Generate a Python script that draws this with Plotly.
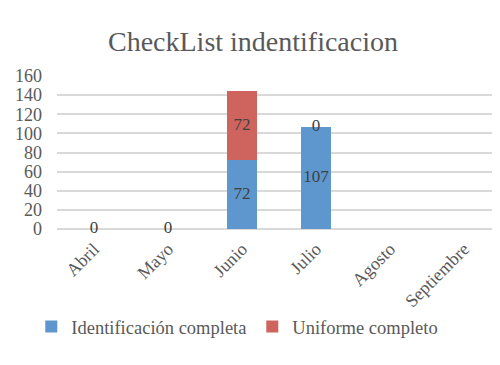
import plotly.graph_objects as go

categories = ["Abril", "Mayo", "Junio", "Julio", "Agosto", "Septiembre", "Octubre"]
identificacion = [0, 0, 72, 107, None, None, None]
uniforme = [0, 0, 72, 0, None, None, None]
series_names = ["Identificación completa", "Uniforme completo"]
y_ticks = [0, 20, 40, 60, 80, 100, 120, 140, 160]

BLUE = "#5E97CD"
RED = "#CF645E"
FONT = "Liberation Serif"
GRAY = "#595959"

fig = go.Figure()
fig.add_trace(go.Bar(x=categories, y=identificacion, name=series_names[0],
                     marker=dict(color=BLUE, line=dict(width=0)), width=0.41))
fig.add_trace(go.Bar(x=categories, y=uniforme, name=series_names[1],
                     marker=dict(color=RED, line=dict(width=0)), width=0.41))

# data labels (centered in each stacked segment)
lab_x, lab_y, lab_t = [], [], []
for c, a, b in zip(categories, identificacion, uniforme):
    if a is None:
        continue
    lab_x.append(c); lab_y.append(a / 2); lab_t.append(str(a))
    if b is not None and (b != 0 or a != 0):
        lab_x.append(c); lab_y.append(a + b / 2); lab_t.append(str(b))
fig.add_trace(go.Scatter(x=lab_x, y=lab_y, text=lab_t, mode="text",
                         textfont=dict(family=FONT, size=17, color="#404040"),
                         showlegend=False, hoverinfo="skip", cliponaxis=False))

plot_w = 500 - 49
fig.update_layout(
    barmode="stack",
    width=500, height=365,
    margin=dict(l=49, r=0, t=68, b=144, autoexpand=False),
    paper_bgcolor="white", plot_bgcolor="white",
    font=dict(family=FONT, color=GRAY),
    title=dict(text="CheckList indentificacion", x=0.49, xanchor="center",
               y=0.91, yanchor="middle",
               font=dict(family=FONT, size=28, color=GRAY)),
    xaxis=dict(range=[-0.5, plot_w / 74 - 0.5], tickangle=-45,
               tickfont=dict(family=FONT, size=18, color=GRAY),
               showgrid=False, showline=False, ticks="", automargin=False,
               ticklabelstandoff=5),
    yaxis=dict(range=[0, 160], tickvals=y_ticks,
               tickfont=dict(family=FONT, size=18, color=GRAY),
               showgrid=True, gridcolor="#D9D9D9", gridwidth=1.5,
               zeroline=True, zerolinecolor="#D9D9D9", zerolinewidth=1.5,
               ticks="", ticklen=0, automargin=False, ticklabelstandoff=14),
    legend=dict(orientation="h", x=-0.057, xanchor="left", y=-0.64, yanchor="middle",
                font=dict(family=FONT, size=18.5, color=GRAY),
                itemwidth=30, traceorder="normal",
                entrywidth=176, entrywidthmode="pixels"),
    bargap=0.59,
)
fig.write_html("out.html")
